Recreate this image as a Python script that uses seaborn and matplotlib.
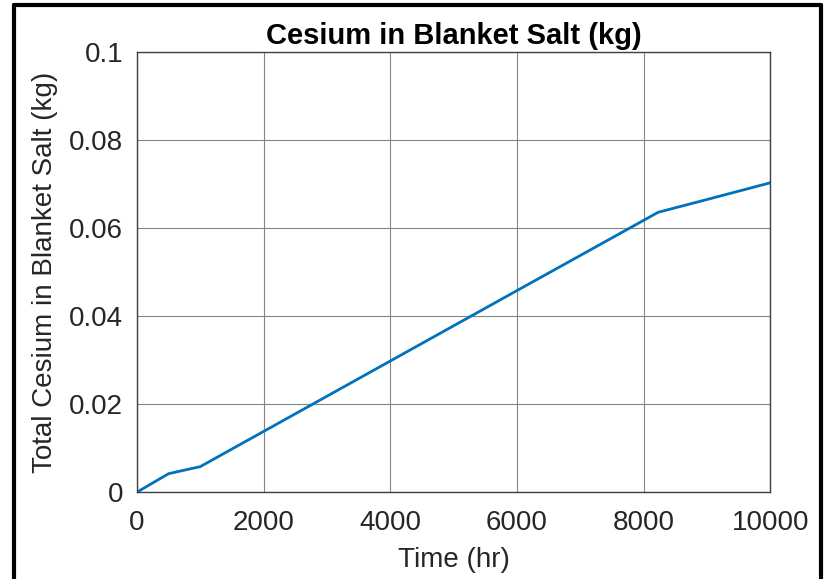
import matplotlib
matplotlib.use("Agg")
import matplotlib.pyplot as plt
import seaborn as sns
import pandas as pd
from matplotlib.lines import Line2D

# Données
time_hr = [0, 500, 1000, 2000, 4000, 6000, 8230, 9000, 10000]
cesium_kg = [0.0, 0.0042, 0.0058, 0.0138, 0.0298, 0.0458, 0.0636, 0.0665, 0.0703]
x_ticks = [0, 2000, 4000, 6000, 8000, 10000]
y_ticks = [0, 0.02, 0.04, 0.06, 0.08, 0.1]
y_tick_labels = ["0", "0.02", "0.04", "0.06", "0.08", "0.1"]

df = pd.DataFrame({"Time (hr)": time_hr, "Cesium": cesium_kg})

sns.set_theme(style="whitegrid")
plt.rcParams['font.family'] = ['Liberation Sans', 'DejaVu Sans']

fig = plt.figure(figsize=(8.3, 5.79), dpi=100)
ax = fig.add_axes([0.165, 0.150, 0.763, 0.760])

sns.lineplot(data=df, x="Time (hr)", y="Cesium", ax=ax, color="#0072BD", linewidth=2)

ax.set_xlim(0, 10000)
ax.set_ylim(0, 0.1)
ax.set_xticks(x_ticks)
ax.set_xticklabels([str(t) for t in x_ticks])
ax.set_yticks(y_ticks)
ax.set_yticklabels(y_tick_labels)
ax.tick_params(axis='both', labelsize=20, colors="#262626", direction='in', length=5, width=0.8)
ax.tick_params(axis='x', pad=13)
ax.tick_params(axis='y', pad=10)
ax.grid(True, color="#858585", linewidth=0.8)
for s in ax.spines.values():
    s.set_color("#404040")
    s.set_linewidth(1.0)

ax.set_xlabel("Time (hr)", fontsize=20, color="#262626", labelpad=8)
ax.set_ylabel("Total Cesium in Blanket Salt (kg)", fontsize=20, color="#262626", labelpad=8)
ax.set_title("Cesium in Blanket Salt (kg)", fontsize=21, fontweight='bold', color="black", pad=6)

# Cadre noir autour de l'image (ouvert en bas)
lw = 3
fig.add_artist(Line2D([14/830, 14/830], [0, 1 - 5/579], transform=fig.transFigure, color="black", linewidth=lw))
fig.add_artist(Line2D([821/830, 821/830], [0, 1 - 5/579], transform=fig.transFigure, color="black", linewidth=lw))
fig.add_artist(Line2D([14/830, 821/830], [1 - 5/579, 1 - 5/579], transform=fig.transFigure, color="black", linewidth=lw))

fig.savefig("out.png", dpi=100)
